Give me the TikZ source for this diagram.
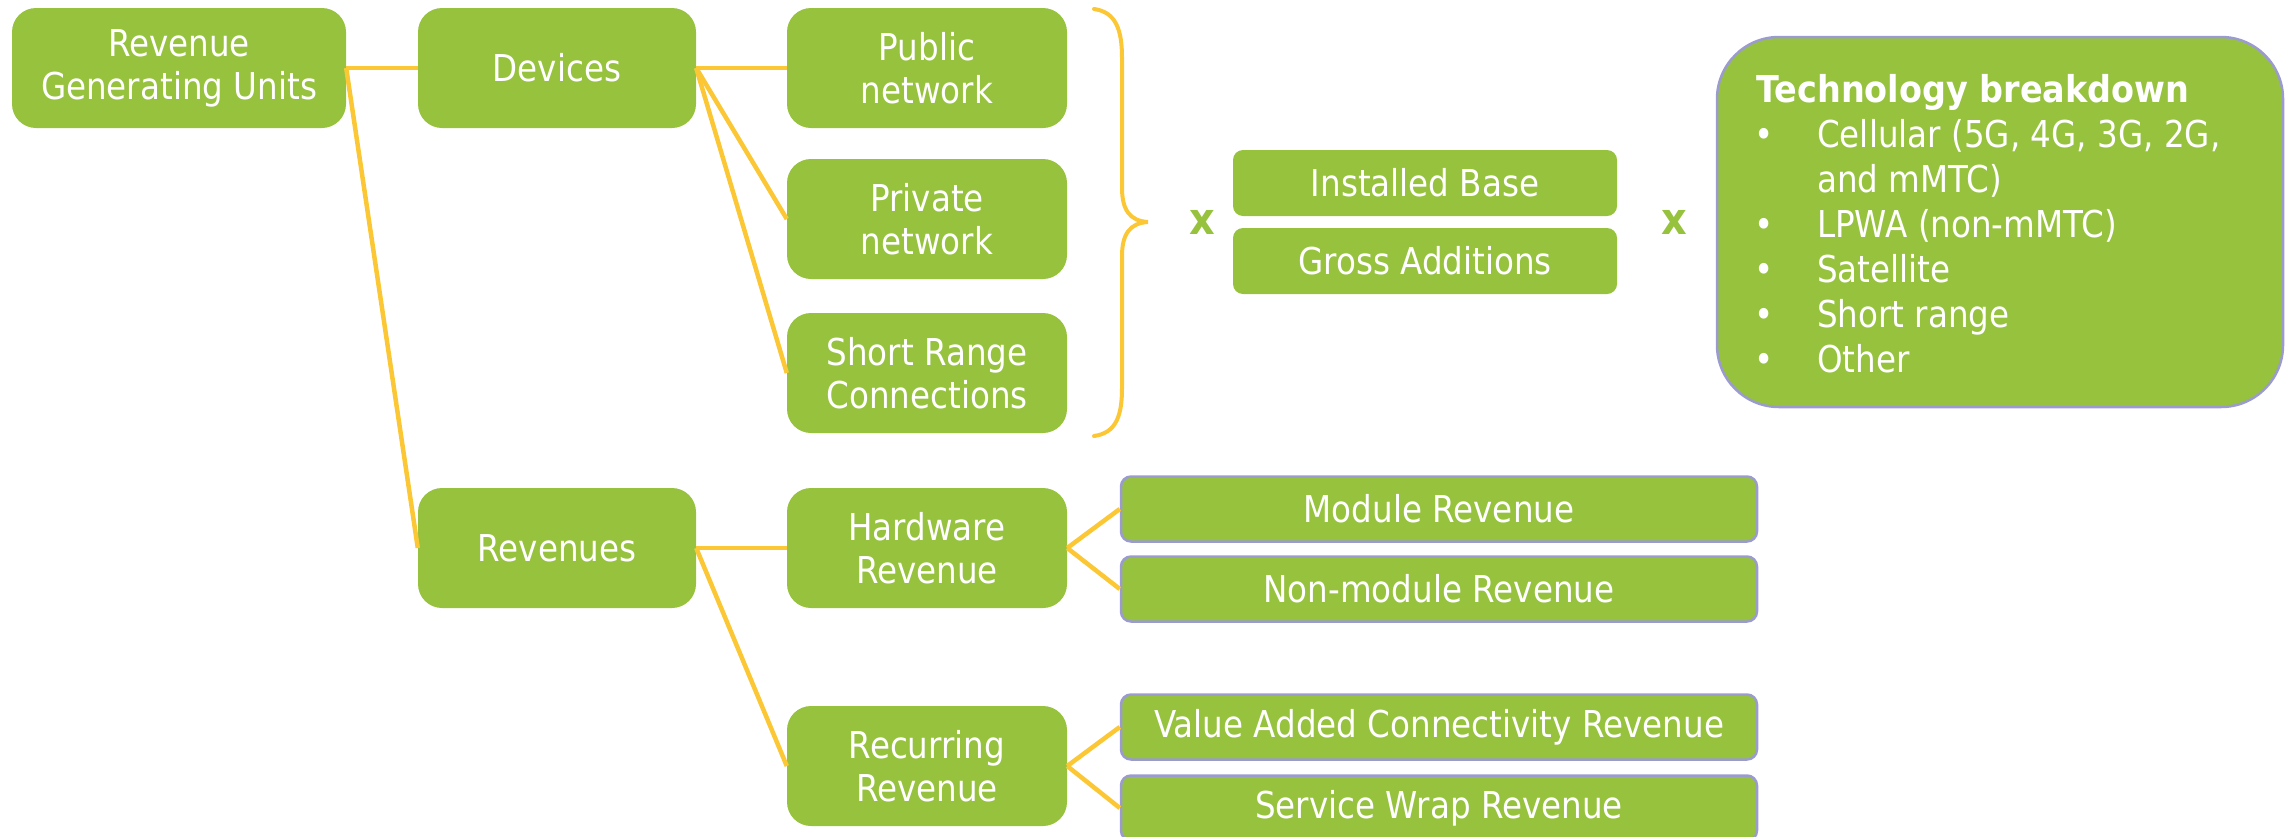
\documentclass[tikz,border=0pt]{standalone}
\usepackage{fontspec}
\setmainfont{DejaVu Sans}[FakeStretch=0.88, BoldFeatures={FakeStretch=0.905}]
\definecolor{gbox}{HTML}{96C23E}
\definecolor{yline}{HTML}{FBC735}
\definecolor{lav}{HTML}{9B9BD0}
\begin{document}
\begin{tikzpicture}[x=1pt,y=-1pt,
  box/.style={fill=gbox, text=white, rounded corners=24pt, inner sep=0pt, align=center,
    minimum width=#1, minimum height=120pt, font=\fontsize{37}{43}\selectfont},
  box/.default=280pt,
  flat/.style={fill=gbox, text=white, rounded corners=10pt, inner sep=0pt,
    minimum width=#1, minimum height=65pt, font=\fontsize{37}{43}\selectfont},
  leaf/.style={flat=636pt, draw=lav, line width=2.5pt},
  conn/.style={draw=yline, line width=4.5pt},
  mult/.style={text=gbox, font=\fontsize{44}{44}\selectfont\bfseries, inner sep=0pt},
  tline/.style={text=white, anchor=base west, inner sep=0pt, font=\fontsize{37}{45}\selectfont},
  tbul/.style={text=white, anchor=base, inner sep=0pt, font=\fontsize{37}{45}\selectfont}]
\useasboundingbox (0,0) rectangle (2286,836);

% column 1-3
\node[box=334pt] (rgu) at (179,68) {Revenue\\Generating Units};
\node[box=278pt] (dev) at (557,68) {Devices};
\node[box] (pub) at (927,68) {Public\\network};
\node[box] (pri) at (927,219) {Private\\network};
\node[box] (srt) at (927,373) {Short Range\\Connections};
\node[box=278pt] (rev) at (557,548) {Revenues};
\node[box] (hw) at (927,548) {Hardware\\Revenue};
\node[box] (rec) at (927,766) {Recurring\\Revenue};

% installed base / gross additions
\node[flat=384pt, minimum height=66pt] (ib) at (1425,183) {Installed Base};
\node[flat=384pt, minimum height=66pt] (ga) at (1425,261) {Gross Additions};

% revenue leaves
\node[leaf] (mod) at (1439,509) {Module Revenue};
\node[leaf] (nmod) at (1439,589) {Non-module Revenue};
\node[leaf] (va) at (1439,727) {Value Added Connectivity Revenue};
\node[leaf] (sw) at (1439,808) {Service Wrap Revenue};

% multiplication marks
\node[mult] (x1) at (1202,222) {x};
\node[mult] (x2) at (1674,222) {x};

% technology box
\node[draw=lav, line width=2.5pt, fill=gbox, rounded corners=62pt,
  minimum width=566pt, minimum height=370pt, inner sep=0pt] (tech) at (2000,222) {};
\node[tline, font=\fontsize{37}{45}\selectfont\bfseries] (t0) at (1756,102) {Technology breakdown};
\node[tbul] (b1) at (1764,147) {•};
\node[tline] (t1) at (1817,147) {Cellular (5G, 4G, 3G, 2G,};
\node[tline] (t2) at (1817,192) {and mMTC)};
\node[tbul] (b3) at (1764,237) {•};
\node[tline] (t3) at (1817,237) {LPWA (non-mMTC)};
\node[tbul] (b4) at (1764,282) {•};
\node[tline] (t4) at (1817,282) {Satellite};
\node[tbul] (b5) at (1764,327) {•};
\node[tline] (t5) at (1817,327) {Short range};
\node[tbul] (b6) at (1764,372) {•};
\node[tline] (t6) at (1817,372) {Other};

% connectors
\draw[conn] (rgu.east) -- (dev.west);
\draw[conn] (rgu.east) -- (rev.west);
\draw[conn] (dev.east) -- (pub.west);
\draw[conn] (dev.east) -- (pri.west);
\draw[conn] (dev.east) -- (srt.west);
\draw[conn] (rev.east) -- (hw.west);
\draw[conn] (rev.east) -- (rec.west);
\draw[conn] (hw.east) -- (mod.west);
\draw[conn] (hw.east) -- (nmod.west);
\draw[conn] (rec.east) -- (va.west);
\draw[conn] (rec.east) -- (sw.west);

% brace
\draw[draw=yline, line width=4pt, line cap=round]
  (1094,9) .. controls (1116,12) and (1122,30) .. (1122,58)
  -- (1122,188) .. controls (1122,210) and (1130,221) .. (1148,222)
  .. controls (1130,223) and (1122,234) .. (1122,256)
  -- (1122,388) .. controls (1122,416) and (1116,433) .. (1094,436);
\end{tikzpicture}
\end{document}
